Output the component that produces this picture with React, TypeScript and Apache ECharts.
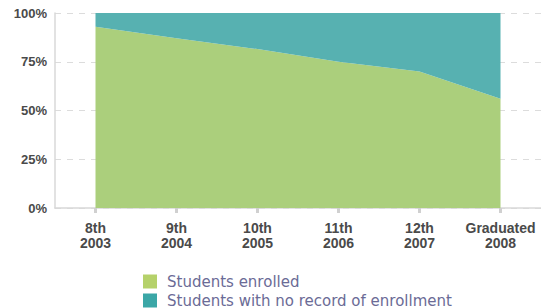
import React, { useEffect, useRef } from "react";
import * as echarts from "echarts";

const categories = ["8th\n2003", "9th\n2004", "10th\n2005", "11th\n2006", "12th\n2007", "Graduated\n2008"];
const enrolled = [93, 87, 81.5, 75, 70, 56];
const noRecord = [7, 13, 18.5, 25, 30, 44];
const yTicks = [0, 25, 50, 75, 100];

export default function App() {
  const ref = useRef<HTMLDivElement>(null);
  useEffect(() => {
    if (!ref.current) return;
    const chart = echarts.init(ref.current, null, { renderer: "svg" });
    chart.setOption({
      animation: false,
      textStyle: { fontFamily: "Liberation Sans, Arial, sans-serif" },
      grid: { left: 55, right: -2, top: 13, bottom: 100, containLabel: false },
      legend: {
        orient: "vertical",
        left: 143,
        top: 274,
        height: 34,
        padding: 0,
        itemWidth: 14,
        itemHeight: 14,
        itemGap: 4,
        icon: "rect",
        textStyle: {
          color: "#6b6b96",
          fontFamily: "DejaVu Sans, sans-serif",
          fontSize: 15,
          lineHeight: 14,
          padding: [0, 0, 0, 5],
        },
        data: ["Students enrolled", "Students with no record of enrollment"],
      },
      xAxis: {
        type: "category",
        data: categories,
        boundaryGap: true,
        axisLine: { show: true, lineStyle: { color: "#d8d8d8", width: 1.5 } },
        axisTick: { show: true, interval: 0, alignWithLabel: true, length: 5, lineStyle: { color: "#d0d0d0", width: 3 } },
        axisLabel: { interval: 0, color: "#4a4a4a", fontWeight: "bold", fontSize: 14, lineHeight: 15, margin: 12 },
        splitLine: { show: false },
      },
      yAxis: {
        type: "value",
        min: 0,
        max: 100,
        interval: 25,
        axisLine: { show: true, lineStyle: { color: "#d8d8d8", width: 1.5 } },
        axisTick: { show: false },
        axisLabel: {
          color: "#4a4a4a",
          fontWeight: "bold",
          fontSize: 13,
          margin: 8,
          formatter: (v: number) => (yTicks.includes(v) ? v + "%" : ""),
        },
        splitLine: { show: true, lineStyle: { color: "#dcdcdc", type: [6, 6], width: 1 } },
      },
      series: [
        {
          name: "Students enrolled",
          type: "line",
          stack: "total",
          data: enrolled,
          symbol: "none",
          lineStyle: { width: 0 },
          areaStyle: { color: "#abcf7c", opacity: 1 },
          itemStyle: { color: "#b5d16a" },
        },
        {
          name: "Students with no record of enrollment",
          type: "line",
          stack: "total",
          data: noRecord,
          symbol: "none",
          lineStyle: { width: 0 },
          areaStyle: { color: "#57b1b1", opacity: 1 },
          itemStyle: { color: "#3ba7a7" },
        },
      ],
    });
    return () => chart.dispose();
  }, []);
  return <div ref={ref} style={{ width: 541, height: 308, position: "absolute", left: 0, top: 0 }} />;
}
